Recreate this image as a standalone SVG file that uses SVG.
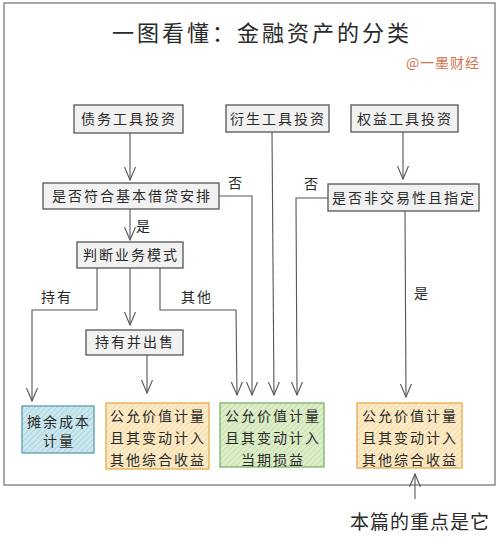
<svg xmlns="http://www.w3.org/2000/svg" width="500" height="544" viewBox="0 0 500 544">
<defs>
<style>
text{font-family:"Noto Sans CJK SC","Noto Sans CJK JP",sans-serif;fill:#2a2a2a}
.t{font-size:14px;letter-spacing:2px;text-anchor:middle}
.lb{font-size:14px;letter-spacing:2px;text-anchor:middle}
.g{fill:#f1f1f1;stroke:#555;stroke-width:1.3}
.c{fill:none;stroke:#555;stroke-width:1.1}
</style>
<marker id="ah" viewBox="0 0 14 12" refX="13" refY="6" markerWidth="14" markerHeight="12" orient="auto-start-reverse" markerUnits="userSpaceOnUse">
<path d="M0,0.5 L13,6 L0,11.5" fill="none" stroke="#555" stroke-width="1.1"/>
</marker>
<pattern id="hb" width="4" height="4" patternUnits="userSpaceOnUse" patternTransform="rotate(45)">
<rect width="4" height="4" fill="#cde7ee"/><line x1="0" y1="0" x2="0" y2="4" stroke="#9ecfdc" stroke-width="1.5"/>
</pattern>
<pattern id="ho" width="4" height="4" patternUnits="userSpaceOnUse" patternTransform="rotate(45)">
<rect width="4" height="4" fill="#fcebc8"/><line x1="0" y1="0" x2="0" y2="4" stroke="#f5d597" stroke-width="1.5"/>
</pattern>
<pattern id="hg" width="4" height="4" patternUnits="userSpaceOnUse" patternTransform="rotate(45)">
<rect width="4" height="4" fill="#deeecb"/><line x1="0" y1="0" x2="0" y2="4" stroke="#bcdb9e" stroke-width="1.5"/>
</pattern>
</defs>
<rect width="500" height="544" fill="#fff"/>
<rect x="4" y="3" width="491" height="482" fill="#fff" stroke="#8a8a8a" stroke-width="1.5"/>
<text x="262" y="41" style="font-size:22px;letter-spacing:3px;text-anchor:middle">一图看懂：金融资产的分类</text>
<text x="443" y="68" style="font-size:14px;letter-spacing:1px;text-anchor:middle;fill:#d0744c">@一墨财经</text>

<g id="connectors">
<line class="c" x1="130" y1="133" x2="130" y2="180" marker-end="url(#ah)"/>
<line class="c" x1="130" y1="209" x2="130" y2="240" marker-end="url(#ah)"/>
<text class="lb" x="144" y="231">是</text>
<polyline class="c" points="219,196 252,196 252,395" marker-end="url(#ah)"/>
<text class="lb" x="236" y="188">否</text>
<line class="c" x1="272" y1="132" x2="274" y2="395" marker-end="url(#ah)"/>
<polyline class="c" points="328,198 296,198 297,395" marker-end="url(#ah)"/>
<text class="lb" x="312" y="189">否</text>
<line class="c" x1="403" y1="132" x2="403" y2="179" marker-end="url(#ah)"/>
<line class="c" x1="405" y1="211" x2="406" y2="397" marker-end="url(#ah)"/>
<text class="lb" x="422" y="298">是</text>
<polyline class="c" points="97,268 97,310 32,310 32,401" marker-end="url(#ah)"/>
<text class="lb" x="57" y="302">持有</text>
<line class="c" x1="130" y1="268" x2="130" y2="325" marker-end="url(#ah)"/>
<polyline class="c" points="160,268 160,310 236,310 237,395" marker-end="url(#ah)"/>
<text class="lb" x="197" y="302">其他</text>
<line class="c" x1="147" y1="355" x2="147" y2="393" marker-end="url(#ah)"/>
<line class="c" x1="415" y1="499" x2="415" y2="474" marker-end="url(#ah)"/>
</g>

<g id="n-debt"><rect class="g" x="74" y="105" width="109" height="28"/><text class="t" x="129" y="124">债务工具投资</text></g>
<g id="n-deriv"><rect class="g" x="226" y="105" width="103" height="27"/><text class="t" x="278" y="124">衍生工具投资</text></g>
<g id="n-equity"><rect class="g" x="351" y="105" width="107" height="27"/><text class="t" x="405" y="124">权益工具投资</text></g>
<g id="n-sppi"><rect class="g" x="43" y="183" width="176" height="26"/><text class="t" x="132" y="201">是否符合基本借贷安排</text></g>
<g id="n-model"><rect class="g" x="77" y="242" width="106" height="26"/><text class="t" x="131" y="260">判断业务模式</text></g>
<g id="n-oci-choice"><rect class="g" x="328" y="184" width="151" height="27"/><text class="t" x="404" y="203">是否非交易性且指定</text></g>
<g id="n-holdsell"><rect class="g" x="86" y="330" width="97" height="25"/><text class="t" x="135" y="347">持有并出售</text></g>
<g id="n-amort"><rect x="22" y="406" width="72" height="47" fill="url(#hb)" stroke="#5a9fae" stroke-width="1.3"/>
<text class="t" x="59" y="427">摊余成本</text><text class="t" x="59" y="446">计量</text></g>
<g id="n-fvoci1"><rect x="106" y="403" width="103" height="66" fill="url(#ho)" stroke="#e9a94e" stroke-width="1.3"/>
<text class="t" x="158" y="421">公允价值计量</text><text class="t" x="158" y="443">且其变动计入</text><text class="t" x="158" y="465">其他综合收益</text></g>
<g id="n-fvtpl"><rect x="220" y="403" width="104" height="64" fill="url(#hg)" stroke="#7db266" stroke-width="1.3"/>
<text class="t" x="273" y="421">公允价值计量</text><text class="t" x="273" y="443">且其变动计入</text><text class="t" x="273" y="465">当期损益</text></g>
<g id="n-fvoci2"><rect x="357" y="403" width="105" height="65" fill="url(#ho)" stroke="#e9a94e" stroke-width="1.3"/>
<text class="t" x="410" y="421">公允价值计量</text><text class="t" x="410" y="443">且其变动计入</text><text class="t" x="410" y="465">其他综合收益</text></g>

<text x="420" y="529" style="font-size:19px;letter-spacing:1px;text-anchor:middle">本篇的重点是它</text>
</svg>
